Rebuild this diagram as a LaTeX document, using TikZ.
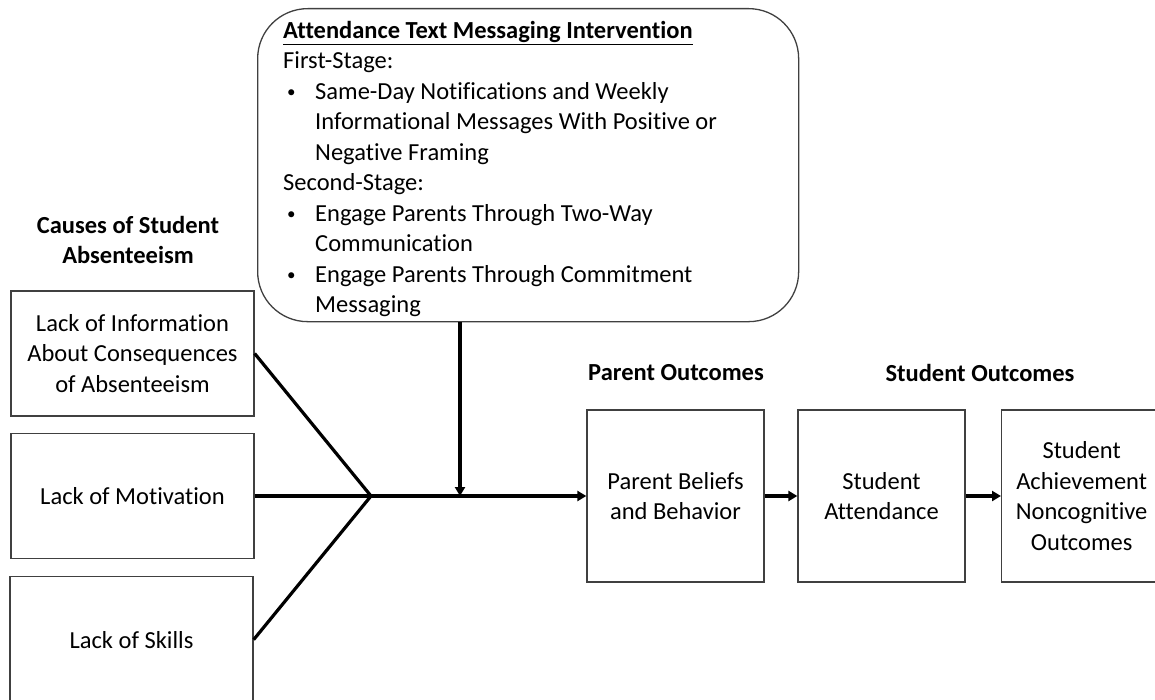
\documentclass[tikz,border=0pt]{standalone}
\usepackage{fontspec}
\setmainfont{Carlito}[Ligatures={NoCommon}]
\usetikzlibrary{arrows.meta,calc}
\tikzset{
  txt/.style={font=\fontsize{24.5}{30.5}\selectfont, inner sep=0pt, align=center},
  hdr/.style={txt, font=\fontsize{24.5}{30.5}\selectfont\bfseries},
  box/.style={draw=black!75, line width=1.3pt, rectangle, txt},
  conn/.style={line width=3.2pt, black},
  arr/.style={conn, -{Triangle[length=9pt,width=10pt]}, shorten >=0pt},
}
\newcommand{\bul}{\hspace*{4pt}\makebox[28pt][l]{\raisebox{1.5pt}{\fontsize{17}{17}\selectfont\textbullet}}}
\newcommand{\ind}{\hspace*{32pt}}
\begin{document}
\begin{tikzpicture}[x=1pt,y=-1pt]
\useasboundingbox (0,0) rectangle (1155,700);

% intervention box
\node[draw=black!75, line width=1.3pt, rounded corners=50pt, minimum width=541pt, minimum height=313pt, anchor=north west, inner sep=0pt] (intv) at (257,8) {};
\node[txt, align=left, anchor=north west] (intvtext) at (283,21) {%
\underline{\textbf{Attendance Text Messaging Intervention}}\\
First-Stage:\\
\bul Same-Day Notifications and Weekly\\
\ind Informational Messages With Positive or\\
\ind Negative Framing\\
Second-Stage:\\
\bul Engage Parents Through Two-Way\\
\ind Communication\\
\bul Engage Parents Through Commitment\\
\ind Messaging};

% headings
\node[hdr] (hcauses) at (128,240) {Causes of Student\\Absenteeism};
\node[hdr] (hparent) at (676,373) {Parent Outcomes};
\node[hdr] (hstudent) at (980,373) {Student Outcomes};

% cause boxes
\node[box, minimum width=243pt, minimum height=125pt] (c1) at (132.5,353.5) {Lack of Information\\About Consequences\\of Absenteeism};
\node[box, minimum width=243pt, minimum height=125pt] (c2) at (132.5,496) {Lack of Motivation};
\node[box, minimum width=243pt, minimum height=126pt, anchor=north] (c3) at (131.5,576) {Lack of Skills};

% outcome boxes
\node[box, minimum width=177pt, minimum height=172pt] (pb) at (675.5,496) {Parent Beliefs\\and Behavior};
\node[box, minimum width=167pt, minimum height=172pt] (sa) at (881.5,496) {Student\\Attendance};
\node[box, minimum width=160pt, minimum height=172pt, anchor=west] (so) at (1001,496) {Student\\Achievement\\Noncognitive\\Outcomes};

% connectors
\coordinate (junc) at (371,496);
\coordinate (meet) at (460,496);
\draw[conn] (c1.east) -- (junc);
\draw[conn] (c2.east) -- (junc);
\draw[conn] (c3.east) -- (junc);
\draw[arr] (junc) -- (pb.west);
\draw[arr] (intv.south -| meet) -- (meet);
\draw[arr] (pb.east) -- (sa.west);
\draw[arr] (sa.east) -- (so.west);
\end{tikzpicture}
\end{document}
